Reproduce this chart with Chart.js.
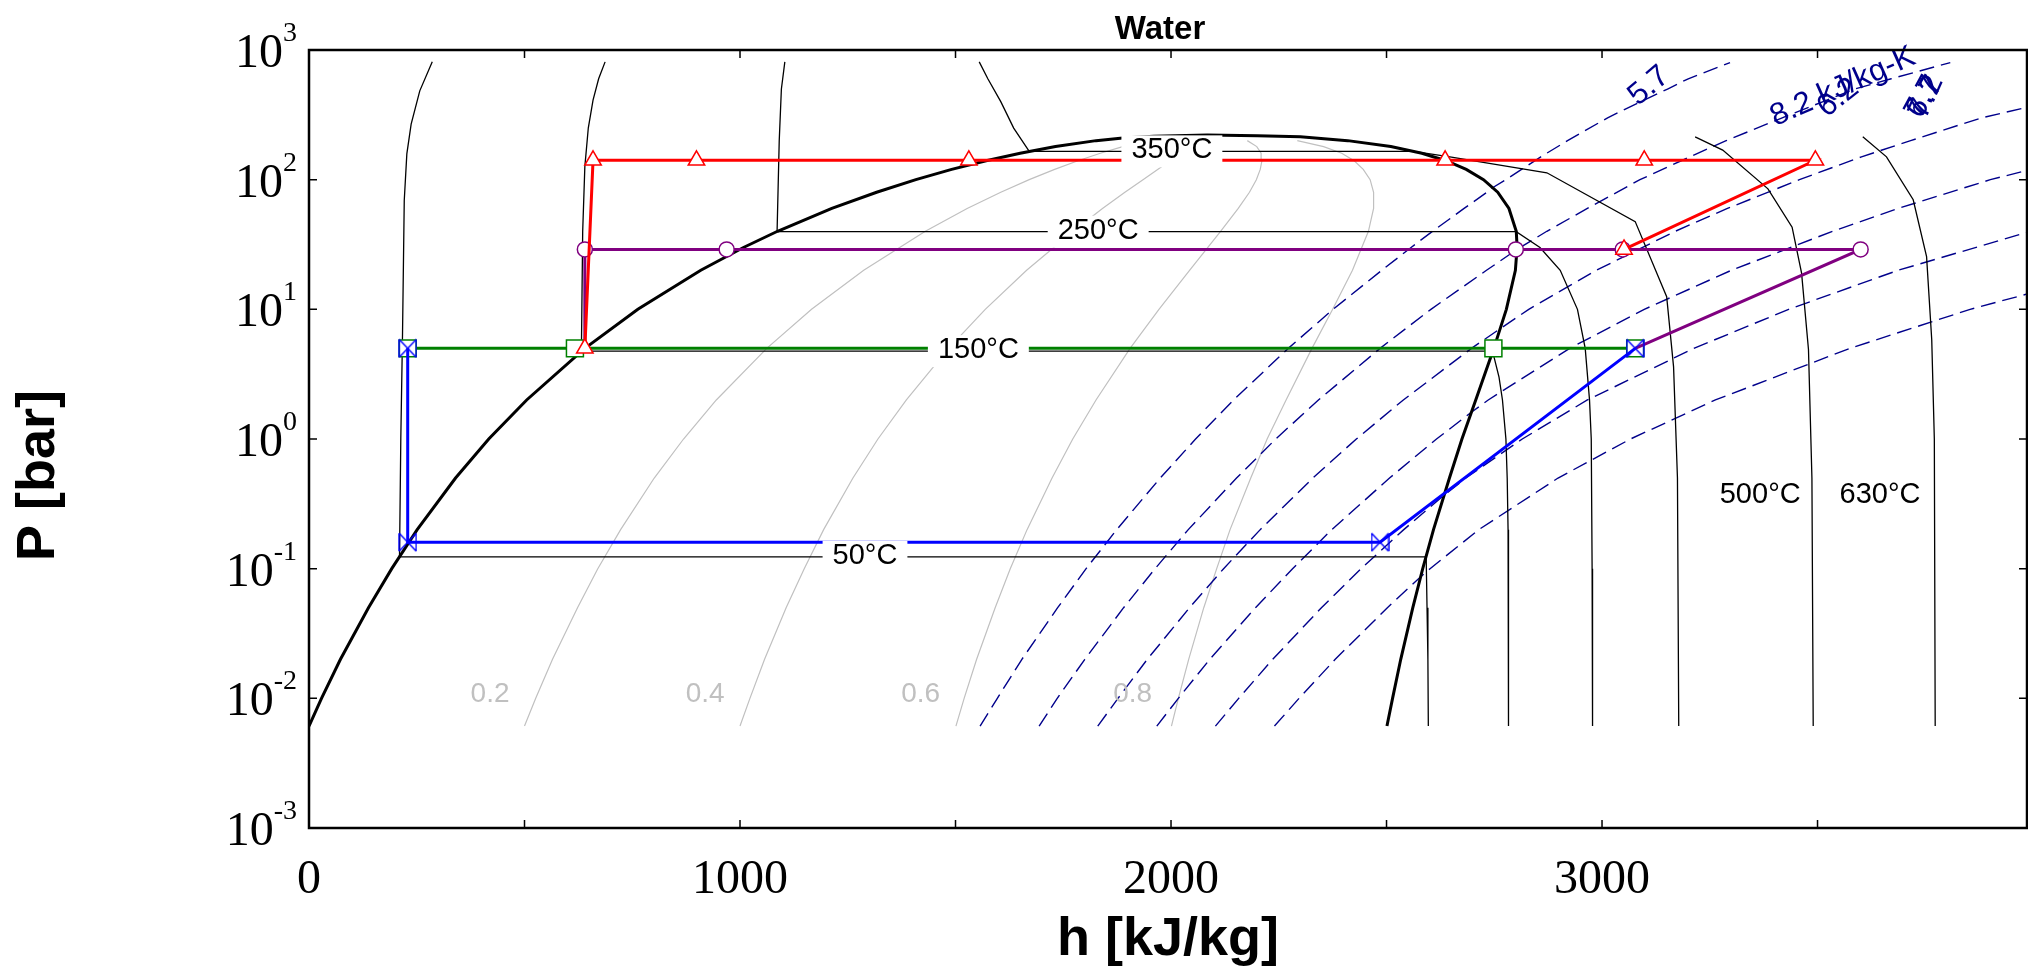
<!DOCTYPE html>
<html><head><meta charset="utf-8">
<script src="https://cdn.jsdelivr.net/npm/chart.js@4/dist/chart.umd.min.js"></script>
<style>html,body{margin:0;padding:0;background:#fff;overflow:hidden}#wrap{width:2028px;height:968px}</style>
</head><body><div id="wrap"><canvas id="c" width="2028" height="968" style="width:2028px;height:968px"></canvas></div>
<script>
// ---------- axis ----------
const xTickLabels = [0, 1000, 2000, 3000];
const xTickMarks = [0, 500, 1000, 1500, 2000, 2500, 3000, 3500];
const yDecades = [-3, -2, -1, 0, 1, 2, 3];

// ---------- saturation dome ----------
const domeH = [0,29,73,138,192,251,340,417,505,640,763,909,1008,1087,1213,1317,1408,1491,1571,1650,1732,1826,1888,1960,2084,2200,2300,2410,2510,2582,2638,2685,2725,2758,2784,2801,2803,2799,2778,2749,2707,2675,2646,2609,2584,2561,2533,2514,2501];
const domeP = [0.00611,0.01,0.02,0.05,0.1,0.2,0.5,1,2,5,10,20,30,40,60,80,100,120,140,160,180,200,210,216,220.6,218,214,200,180,160,140,120,100,80,60,40,30,20,10,5,2,1,0.5,0.2,0.1,0.05,0.02,0.01,0.00611];

// ---------- isotherms ----------
const t50H = [286,257,237,227,221,217,213,210,2592,2594,2596,2597];
const t50P = [810,484,268,158,69,6.5,1,0.1235,0.1235,0.05,0.02,0.00611];
const t150H = [687,672,659,648,640,635,632,2746,2761,2769,2777,2780,2782,2783,2783];
const t150P = [810,600,411,250,126,40,4.76,4.76,3,2,1,0.5,0.2,0.1,0.00611];
const t250H = [1104,1096,1091,1086,2801,2856,2903,2943,2961,2971,2975,2977,2978];
const t250P = [810,500,200,39.7,39.7,30,20,10,5,2,1,0.1,0.00611];
const t350H = [1555,1575,1605,1635,1671,2563,2647,2872,3077,3150,3166,3175,3178];
const t350P = [810,600,400,250,165.3,165.3,150,113,47.5,12.5,3.6,0.5,0.00611];
const t500H = [3216,3280,3385,3441,3463,3479,3487,3490];
const t500P = [214,169,85,43,19,4.9,0.5,0.00611];
const t630H = [3605,3660,3722,3753,3765,3771,3773];
const t630P = [214,150,70,25.5,5.8,1,0.00611];

// ---------- quality lines ----------
const qP = [0.00611,0.01,0.02,0.05,0.1,0.2,0.5,1,2,5,10,20,40,60,80,100,120,140,160,180,200];
const q02 = [500,526,565,623,670,723,801,869,945,1062,1166,1287,1430,1527,1605,1671,1730,1784,1836,1888,1944];
const q04 = [1000,1023,1057,1107,1149,1194,1262,1320,1386,1484,1569,1665,1773,1841,1893,1935,1969,1998,2023,2043,2060];
const q06 = [1501,1520,1549,1592,1627,1666,1724,1772,1826,1905,1972,2043,2115,2156,2182,2198,2207,2211,2209,2199,2177];
const q08 = [2001,2017,2041,2076,2106,2137,2185,2223,2267,2327,2375,2421,2458,2470,2470,2462,2446,2425,2396,2354,2293];

// ---------- isentropes (kJ/kg-K) ----------
const s57P = [0.00611,0.01,0.02,0.05,0.1,0.2,0.5,1,2,5,10,20,30,40,60,80,87,100,150,200,300,400,500,600,800];
const s57H = [1557,1597,1654,1737,1803,1874,1975,2057,2145,2272,2376,2489,2557,2607,2680,2733,2747,2777,2858,2920,3013,3090,3152,3200,3297];
const s62P = [0.00611,0.01,0.02,0.05,0.1,0.2,0.5,1,2,5,10,20,29,40,60,100,150,200,300,400,500,600,800];
const s62H = [1694,1736,1800,1890,1963,2040,2152,2243,2342,2485,2603,2732,2803,2872,2966,3088,3204,3288,3418,3513,3586,3671,3808];
const s67P = [0.00611,0.01,0.02,0.05,0.1,0.2,0.5,1,2,5,7.1,10,20,40,60,100,150,200,300,371];
const s67H = [1830,1877,1945,2043,2122,2207,2329,2430,2539,2697,2764,2830,2987,3170,3291,3458,3602,3716,3881,4000];
const s72P = [0.00611,0.01,0.02,0.05,0.1,0.2,0.5,1,1.6,2,5,10,20,40,60,100,121];
const s72H = [1967,2017,2090,2196,2282,2373,2507,2616,2696,2736,2925,3098,3300,3535,3687,3901,4000];
const s77P = [0.00611,0.01,0.02,0.05,0.1,0.2,0.37,0.5,1,2,5,10,20,40.5];
const s77H = [2103,2157,2236,2349,2441,2540,2634,2684,2815,2966,3213,3433,3687,4000];
const s82P = [0.00611,0.01,0.02,0.05,0.087,0.1,0.2,0.5,1,2,5,10,13.5];
const s82H = [2240,2297,2381,2502,2580,2601,2714,2898,3066,3263,3575,3854,4000];

// ---------- cycles ----------
const redH = [640,659,899,1531,2636,3098,3495,3051];
const redP = [5,141,141,141,141,141,141,29];
const purH = [640,640,969,2800,3048,3600,3077];
const purP = [5,29,29,29,29,29,5];
const grnH = [229,617,2748,3077];
const grnP = [5,5,5,5];
const bluH = [3077,2485,229,229];
const bluP = [5,0.16,0.16,5];

// ---------- labels ----------
const isoLabelText = ['350°C','250°C','150°C','50°C'];
const isoLabelH = [2002,1831,1553,1290];
const isoLabelP = [165.3,39.7,4.76,0.1235];
const hotLabelText = ['500°C','630°C'];
const hotLabelH = [3367,3645];
const hotLabelP = [0.37,0.37];
const qLabelText = ['0.2','0.4','0.6','0.8'];
const qLabelH = [420,919,1419,1911];
const qLabelP = [0.0108,0.0108,0.0108,0.0108];
const sLabelText = ['5.7','8.2 kJ/kg-K','6.2','7.7','6.7','7.2'];
const sLabelH = [3109,3559,3548,3745,3749,3753];
const sLabelP = [527,519,427,434,434,434];
const sLabelAngle = [-40,-24,-38,-62,-58,-66];

// ---------- build ----------
const pts = (H,P) => H.map((h,i)=>({x:h,y:P[i]}));
function bowtie(){
  const c=document.createElement('canvas'); c.width=19; c.height=20;
  const g=c.getContext('2d'); g.strokeStyle='#0000ff'; g.lineWidth=1.4;
  g.beginPath();
  g.moveTo(1,1); g.lineTo(18,19); g.moveTo(1,19); g.lineTo(18,1);
  g.moveTo(1,1); g.lineTo(1,19); g.moveTo(18,1); g.lineTo(18,19);
  g.stroke(); return c;
}
const thin = (H,P,color,w,ord,dash) => ({data:pts(H,P),showLine:true,borderColor:color,borderWidth:w,pointRadius:0,order:ord,borderDash:dash||[],tension:0});

const datasets = [
  {data:pts(redH,redP),showLine:true,borderColor:'#ff0000',borderWidth:3,order:1,
   pointStyle:'triangle',pointRadius:9.5,pointBackgroundColor:'#fff',pointBorderColor:'#ff0000',pointBorderWidth:1.5},
  {data:pts(bluH,bluP),showLine:true,borderColor:'#0000ff',borderWidth:3,order:2,
   pointStyle:bowtie(),pointRadius:9},
  {data:pts(purH,purP),showLine:true,borderColor:'#800080',borderWidth:3,order:3,
   pointStyle:'circle',pointRadius:[0,7.5,7.5,7.5,7.5,7.5,0],pointBackgroundColor:'#fff',pointBorderColor:'#800080',pointBorderWidth:1.5},
  {data:pts(grnH,grnP),showLine:true,borderColor:'#008000',borderWidth:3,order:4,
   pointStyle:'rect',pointRadius:12,pointBackgroundColor:'#fff',pointBorderColor:'#008000',pointBorderWidth:1.5},
  thin(domeH,domeP,'#000',3,5),
  thin(t50H,t50P,'#000',1.3,6), thin(t150H,t150P,'#000',1.3,6), thin(t250H,t250P,'#000',1.3,6),
  thin(t350H,t350P,'#000',1.3,6), thin(t500H,t500P,'#000',1.3,6), thin(t630H,t630P,'#000',1.3,6),
  thin(s57H,s57P,'#00008b',1.4,7,[15,7]), thin(s62H,s62P,'#00008b',1.4,7,[15,7]), thin(s67H,s67P,'#00008b',1.4,7,[15,7]),
  thin(s72H,s72P,'#00008b',1.4,7,[15,7]), thin(s77H,s77P,'#00008b',1.4,7,[15,7]), thin(s82H,s82P,'#00008b',1.4,7,[15,7]),
  thin(q02,qP,'#c0c0c0',1.2,8), thin(q04,qP,'#c0c0c0',1.2,8), thin(q06,qP,'#c0c0c0',1.2,8), thin(q08,qP,'#c0c0c0',1.2,8)
];

const SANS = '"Liberation Sans", Arial, sans-serif';
const SERIF = '"Liberation Serif", "Times New Roman", serif';

const deco = {
  id:'deco',
  afterDatasetsDraw(chart){
    const {ctx, chartArea:a, scales:{x,y}} = chart;
    ctx.save();
    // isotherm labels with white boxes
    ctx.font = '29px ' + SANS; ctx.textAlign='center'; ctx.textBaseline='middle';
    isoLabelText.forEach((t,i)=>{
      const px=x.getPixelForValue(isoLabelH[i]), py=y.getPixelForValue(isoLabelP[i]);
      const w=ctx.measureText(t).width+20;
      ctx.fillStyle='#fff'; ctx.fillRect(px-w/2,py-16,w,32);
      ctx.fillStyle='#000'; ctx.fillText(t,px,py-1);
    });
    hotLabelText.forEach((t,i)=>{
      ctx.fillStyle='#000';
      ctx.fillText(t,x.getPixelForValue(hotLabelH[i]),y.getPixelForValue(hotLabelP[i]));
    });
    ctx.font = '28px ' + SANS;
    ctx.fillStyle='#c0c0c0';
    qLabelText.forEach((t,i)=>{
      ctx.fillText(t,x.getPixelForValue(qLabelH[i]),y.getPixelForValue(qLabelP[i]));
    });
    ctx.font = '31px ' + SANS;
    ctx.fillStyle='#00008b';
    sLabelText.forEach((t,i)=>{
      ctx.save();
      ctx.translate(x.getPixelForValue(sLabelH[i]),y.getPixelForValue(sLabelP[i]));
      ctx.rotate(sLabelAngle[i]*Math.PI/180);
      ctx.fillText(t,0,0);
      ctx.restore();
    });
    // frame
    ctx.strokeStyle='#000'; ctx.lineWidth=2.5;
    ctx.strokeRect(a.left,a.top,a.right-a.left,a.bottom-a.top);
    ctx.lineWidth=1.5;
    ctx.beginPath();
    xTickMarks.forEach(v=>{
      const px=x.getPixelForValue(v);
      ctx.moveTo(px,a.bottom); ctx.lineTo(px,a.bottom-8);
      ctx.moveTo(px,a.top); ctx.lineTo(px,a.top+8);
    });
    yDecades.forEach(e=>{
      const py=y.getPixelForValue(Math.pow(10,e));
      ctx.moveTo(a.left,py); ctx.lineTo(a.left+8,py);
      ctx.moveTo(a.right,py); ctx.lineTo(a.right-8,py);
    });
    ctx.stroke();
    // x tick labels
    ctx.fillStyle='#000'; ctx.font='48px '+SERIF; ctx.textAlign='center'; ctx.textBaseline='alphabetic';
    xTickLabels.forEach(v=>ctx.fillText(String(v),x.getPixelForValue(v),a.bottom+65));
    // y tick labels 10^e
    ctx.textAlign='right';
    yDecades.forEach(e=>{
      const py=y.getPixelForValue(Math.pow(10,e));
      ctx.font='28px '+SERIF;
      const sup=String(e); const sw=ctx.measureText(sup).width;
      const rx=a.left-12;
      ctx.fillText(sup,rx,py-9);
      ctx.font='48px '+SERIF;
      ctx.fillText('10',rx-sw,py+17);
    });
    // axis titles
    ctx.font='bold 54px '+SANS; ctx.textAlign='center';
    ctx.fillText('h [kJ/kg]',(a.left+a.right)/2,955);
    ctx.save(); ctx.translate(54,475.5); ctx.rotate(-Math.PI/2);
    ctx.fillText('P [bar]',0,0); ctx.restore();
    ctx.font='bold 33px '+SANS;
    ctx.fillText('Water',1160,39);
    ctx.restore();
  }
};

new Chart(document.getElementById('c'),{
  type:'scatter',
  data:{datasets},
  options:{
    responsive:false, animation:false, devicePixelRatio:1,
    layout:{autoPadding:false,padding:{left:309,top:50,right:1,bottom:140}},
    plugins:{legend:{display:false},tooltip:{enabled:false},title:{display:false}},
    elements:{line:{tension:0}},
    scales:{
      x:{type:'linear',min:0,max:3986,display:false},
      y:{type:'logarithmic',min:0.001,max:1000,display:false}
    }
  },
  plugins:[deco]
});
</script></body></html>
